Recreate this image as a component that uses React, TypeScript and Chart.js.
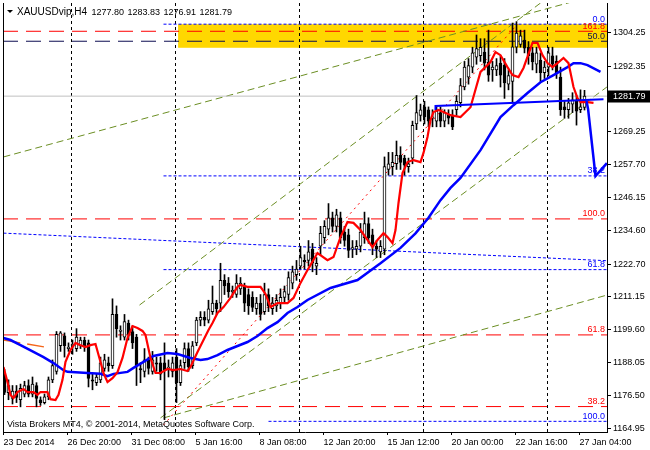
import React, { useEffect, useRef } from 'react';
import { Chart, registerables } from 'chart.js';
Chart.register(...registerables);

// ---- Candles (H4 bars, index 1..146) ----
const openP = [1183,1177.5,1175.5,1178,1175,1177,1180,1177,1180,1175,1174,1176,1182,1185,1194,1197.5,1193,1194,1193,1194,1196,1195,1182,1181,1182,1186,1188,1187,1205,1199,1197,1202,1199,1197,1186,1185,1189,1185,1188,1188,1188,1186,1185,1190,1181,1188,1193,1187,1195,1203,1204,1203,1206,1209,1209,1217,1216,1213,1212,1214,1215,1212,1211,1207,1209,1206,1212,1207,1208,1209,1211,1212,1216,1219,1222,1224,1224,1228,1222,1229,1232,1235,1239,1236,1239,1234,1233,1228,1228,1229,1232,1237,1233,1229,1227,1228,1256,1257,1258,1261,1260,1257,1260,1272,1275,1278,1277,1274,1273,1276,1273,1275,1275,1277,1279.5,1285,1288.5,1292,1295.5,1296,1297.3,1293.8,1291,1291,1293.4,1292.7,1286,1287,1299,1300,1301.5,1299,1297,1293,1294.5,1290,1292,1296,1294,1288.5,1278,1277,1279,1280,1277,1277.8];
const highP = [1185.7,1182,1180,1180,1180.5,1181.5,1182,1183,1181,1176,1177,1183,1189,1199,1199,1198.5,1195,1196,1200,1197,1197,1196,1184,1184,1190,1191,1190,1210.5,1208,1201,1205,1203,1201,1198,1188,1193,1190,1192,1190,1190,1195,1189,1190,1193,1189,1195,1195,1195.5,1204,1206,1206,1210,1215,1210,1223,1219,1218,1215,1219,1218,1216,1214,1213,1211,1212,1216,1214,1211,1212,1214,1215,1220,1222,1224,1229,1226,1231,1230,1225,1236,1238,1244,1241,1242,1241,1236,1235,1231,1231,1237,1241,1239,1235,1231,1231,1260.4,1262,1262,1266,1264,1261,1260,1273,1282,1279,1280,1278,1277,1278,1278,1277,1277,1277,1282,1288,1294,1295,1299,1303.3,1302,1302,1305,1294,1295,1296,1295,1291,1307.5,1308,1305,1305,1301,1299,1299,1297,1294,1299,1299,1296,1292,1280,1281,1283,1282,1284,1283.83];
const lowP = [1176.8,1175,1173.5,1174,1172.5,1176,1176,1176,1172.5,1173,1173.5,1175,1181,1184,1192,1190,1192,1191,1192,1193,1192,1179.5,1178.5,1180,1181,1185,1185,1186,1197,1196,1196,1196,1193,1180,1181,1183,1184,1184,1185,1182,1168,1183,1183,1174,1180,1186,1185,1186,1194,1201,1201,1202,1205,1205,1206,1212,1211,1211,1211,1212,1206,1205,1206,1205,1203,1205,1206,1205,1206,1207,1209,1210,1214,1217,1221,1221,1222,1220,1219,1226,1230,1233,1234,1234,1230,1229,1225,1225,1226,1227,1230,1230,1226,1225,1225,1226,1254,1254,1256,1256,1254,1255,1258,1270,1273,1272,1271,1271,1271,1271,1271,1272,1270,1275,1278,1284,1286,1290,1293,1294,1291,1287,1287,1289,1285,1281,1284,1279.4,1297,1299,1297,1293,1291,1290,1287,1288,1289,1291,1288,1275,1274,1274,1276,1271.6,1276,1276.91];
const closeP = [1177.6,1180,1178,1175.8,1179,1180,1177,1180.5,1175.5,1174,1176,1182,1187,1198,1198.5,1194,1193.5,1194.5,1197,1196,1194,1182.5,1181.5,1183,1188,1189,1187,1205,1200,1199.5,1202.5,1198,1195,1187,1185.5,1189,1186,1189,1187.5,1184,1185.5,1186.5,1188,1181,1187,1193,1186.5,1194,1203,1204,1203,1207,1209,1207,1217,1215,1213,1213.5,1216,1216,1209,1208,1207.5,1209,1205,1212,1208,1209,1210,1211,1213,1218,1220,1221,1225,1223.5,1227,1223,1223,1233.5,1236,1239,1236,1240,1232,1231,1227.5,1228.5,1229,1234,1237,1232,1229,1228,1229,1257,1258,1258.5,1261,1258.5,1257.5,1258,1271.5,1276,1277,1274.5,1273,1274.5,1276.5,1273,1276,1274,1271,1280,1285.5,1292,1292.5,1297,1298.5,1299,1293.4,1289.2,1292,1292.5,1289.2,1286.4,1289,1299.1,1304,1303,1298.7,1296,1293.8,1297,1290,1292,1297,1293,1290,1277,1277,1279.4,1280.5,1276.5,1278,1281.79];

// ---- Axis ticks ----
const yTickValues = [1164.95,1176.50,1188.05,1199.60,1211.15,1222.70,1234.60,1246.15,1257.70,1269.25,1292.35,1304.25];
const xTickValues = [0.75,16.75,32.75,48.75,64.75,80.75,96.75,112.75,128.75,144.75];
const xTickLabels = ['23 Dec 2014','26 Dec 20:00','31 Dec 08:00','5 Jan 16:00','8 Jan 08:00','12 Jan 20:00','15 Jan 12:00','20 Jan 00:00','22 Jan 16:00','27 Jan 04:00'];
const lastPrice = 1281.79;
const headerValues = ['1277.80','1283.83','1276.91','1281.79'];

// ---- Moving averages (bar index, price) ----
const redMaX = [0.75,1.75,2.5,3.25,4.25,5.75,6.75,8.25,9.25,10,11.75,12.5,13.75,14.5,15.5,16.25,17.5,18.75,20,21.25,22.5,23.75,25,25.75,26.75,28,29.25,30.5,31.75,33,34.25,35.5,36.25,37.5,38.75,40,41.75,43.25,45,46.75,47.5,49.25,50.75,52,53,54.25,55.75,57.5,59.25,60,61.75,65,66.25,67.5,69.25,71.75,73.25,75,76.75,79.25,81.75,83.25,85,86.75,88.25,90,91.75,93,94.25,95.75,96.75,98,98.75,99.5,100.5,101.75,103.25,105,105.75,106.75,107.5,108.25,109.5,110.75,112.5,115,117.5,120,122.5,123.75,125,126.75,128,129.5,130.75,133,134.25,135.5,136.75,138,139.25,140.75,142,143.25,144.25,145,146.75,148.25];
const redMaY = [1186.5,1181.2,1176.7,1175.6,1177.7,1178.8,1177.7,1177.7,1176.7,1177.7,1177.7,1175.2,1174.9,1176.7,1182,1188.3,1192.5,1195,1194.2,1193.5,1194.2,1194.6,1188.3,1184.4,1181.2,1182.6,1184.7,1189.7,1196.7,1200.9,1200.2,1199.2,1197.8,1189.7,1184.4,1184.4,1185.8,1185.4,1185.8,1185.1,1186.5,1191.8,1196,1199.5,1202,1205.5,1207.6,1210.8,1214.7,1215.4,1214.7,1214.7,1212.2,1207.6,1209,1209,1210.8,1216.1,1220.6,1226.6,1224.1,1225.2,1232.2,1237.5,1237.2,1234.7,1231.2,1228.7,1231.2,1233.6,1232.2,1230.1,1234.7,1244.2,1254.7,1258.6,1259.3,1258.6,1261.8,1267.4,1273.4,1276.2,1276.9,1276.2,1275.1,1274.4,1277.9,1290.3,1293.8,1297.3,1296.2,1292,1289.2,1288.5,1291.7,1300.5,1300.5,1296.2,1293.4,1292,1293.4,1295.2,1293.4,1285,1281.1,1279.7,1279.7,1279.4];
const blueMaX = [0.75,2.5,5,8.25,10.75,13.25,15.75,16.75,21.75,25,26.75,28.25,31.75,33.25,35.75,38.25,41.75,44.25,47.5,50,51.75,54.25,56.75,59.25,61.75,64.25,66.75,69.25,71.75,74.25,76.75,82.5,89.25,95,100,103.75,107,110,112.5,115,120,125,128.25,131.75,135,138.25,141.75,143.25,145,146.75,150];
const blueMaY = [1196.7,1196,1194.2,1191.8,1190,1187.9,1185.4,1184.8,1184.4,1184.1,1183.3,1184.1,1184.8,1186.2,1188.3,1190.4,1191.4,1191.1,1189.7,1189,1189.3,1190.7,1192.5,1193.9,1195.3,1197.4,1200.2,1202.3,1205.5,1207.6,1210.1,1214.3,1217.1,1223,1228.4,1233.5,1239,1245.2,1249.5,1253,1262.8,1274.4,1278.6,1282.9,1286.7,1289.2,1292,1293.4,1293.4,1292.7,1290.3];
const orangeX = [0.75,11.25];
const orangeY = [1196,1193.5];
const blueLevelX = [108.75,108.75,150.75];
const blueLevelY = [1276.9,1278.3,1280.7];
const blueTailX = [146.5,146.9,148.75,151.6];
const blueTailY = [1280.1,1277.2,1253.7,1258.2];

// ---- Objects ----
const separatorsX = [17.75,43.75,74.75,105.75,136.75];
const redFibLevels = [38.2,61.8,100,161.8];
const redFib0 = 1131.8, redFib100 = 1238.6;
const blueFibLevels = [0,38.2,61.8,100];
const blueFibStartX = [40.75,40.75,40.75,67];
const blueFib0 = 1307.1, blueFib100 = 1167.4;
const navyLevelPrice = 1301.1;
const navyLevelLabel = '50.0';
const rectX = [44.4, 151.625];
const rectY = [1307.1, 1298.8];
const oliveLines = [
  { x: [0.75, 151.6], y: [1260.4, 1318.3] },
  { x: [34.75, 136], y: [1208.3, 1315.6] },
  { x: [40, 151.6], y: [1168.6, 1285.0] },
  { x: [40.75, 151.6], y: [1168.6, 1211.8] },
];
const redDottedX = [40.75, 129.25];
const redDottedY = [1166.1, 1307.1];
const blueTrendX = [0.75, 151.6];
const blueTrendY = [1233.6, 1223.9];

const X_MIN = 0.625, X_MAX = 151.625;
const Y_MIN = 1163.65, Y_MAX = 1314.55;
const FONT = 'Liberation Sans';

const pts = (xs: number[], ys: number[]) => xs.map((x, i) => ({ x, y: ys[i] }));
const lineDs = (data: any[], color: string, width: number, dash: number[], order: number) => ({
  type: 'line' as const, data, borderColor: color, borderWidth: width, borderDash: dash,
  pointRadius: 0, tension: 0, fill: false, order, clip: 0,
});

export default function App() {
  const ref = useRef<HTMLCanvasElement | null>(null);
  useEffect(() => {
    if (!ref.current) return;
    const fibPrice = (p0: number, p100: number, lv: number) => p0 + (p100 - p0) * lv / 100;
    const datasets: any[] = [];
    separatorsX.forEach(sx => datasets.push(lineDs(pts([sx, sx], [Y_MIN, Y_MAX]), '#000', 1, [3, 3], 60)));
    redFibLevels.forEach(lv => {
      const p = fibPrice(redFib0, redFib100, lv);
      datasets.push(lineDs(pts([X_MIN, X_MAX], [p, p]), '#ff0000', 1, [15, 8], 55));
    });
    datasets.push(lineDs(pts([X_MIN, X_MAX], [navyLevelPrice, navyLevelPrice]), '#0c0c50', 1, [15, 8], 55));
    blueFibLevels.forEach((lv, i) => {
      const p = fibPrice(blueFib0, blueFib100, lv);
      datasets.push(lineDs(pts([blueFibStartX[i], X_MAX], [p, p]), '#0000ff', 1, [3, 2], 55));
    });
    datasets.push(lineDs(pts(blueTrendX, blueTrendY), '#0000ff', 1, [3, 2], 55));
    oliveLines.forEach(l => datasets.push(lineDs(pts(l.x, l.y), '#6b8e23', 1, [7, 4], 50)));
    datasets.push(lineDs(pts(redDottedX, redDottedY), '#ff0000', 1, [2, 4], 50));
    datasets.push(lineDs(pts([X_MIN, X_MAX], [lastPrice, lastPrice]), '#c0c0c0', 1, [], 45));
    datasets.push({
      type: 'bar', data: openP.map((_, i) => ({ x: i + 1, y: [lowP[i], highP[i]] })),
      backgroundColor: '#000', borderWidth: 0, barThickness: 1, grouped: false, order: 30,
    });
    datasets.push({
      type: 'bar', data: openP.map((o, i) => ({ x: i + 1, y: [o, closeP[i]] })),
      backgroundColor: openP.map((o, i) => (closeP[i] >= o ? '#ffffff' : '#000000')),
      borderColor: '#000', borderWidth: 1, borderSkipped: false, barThickness: 3, minBarLength: 1,
      grouped: false, order: 20,
    });
    datasets.push(lineDs(pts(orangeX, orangeY), '#f4661b', 1.5, [17, 7], 12));
    datasets.push(lineDs(pts(blueMaX, blueMaY), '#0000ff', 2.5, [], 11));
    datasets.push(lineDs(pts(redMaX, redMaY), '#ff0000', 2.2, [], 10));
    datasets.push(lineDs(pts(blueLevelX, blueLevelY), '#0000ff', 2, [], 9));
    datasets.push(lineDs(pts(blueTailX, blueTailY), '#0000ff', 2.5, [], 8));

    const overlay = {
      id: 'mt4overlay',
      beforeDatasetsDraw(chart: any) {
        const { ctx, scales } = chart;
        const x = scales.x, y = scales.y;
        ctx.save();
        ctx.fillStyle = '#ffd700';
        const x0 = x.getPixelForValue(rectX[0]), x1 = x.getPixelForValue(rectX[1]);
        const y0 = y.getPixelForValue(rectY[0]), y1 = y.getPixelForValue(rectY[1]);
        ctx.fillRect(x0, y0, x1 - x0, y1 - y0);
        ctx.restore();
      },
      afterDraw(chart: any) {
        const { ctx, scales, chartArea } = chart;
        const y = scales.y;
        ctx.save();
        ctx.strokeStyle = '#000'; ctx.lineWidth = 1;
        ctx.beginPath(); ctx.moveTo(chartArea.left + 0.5, chartArea.top); ctx.lineTo(chartArea.left + 0.5, chartArea.bottom); ctx.stroke();
        ctx.font = `9px "${FONT}"`; ctx.textAlign = 'right'; ctx.textBaseline = 'bottom';
        const lbl = (lv: number) => (lv === 0 ? '0.0' : lv.toFixed(1));
        redFibLevels.forEach(lv => {
          ctx.fillStyle = '#ff0000';
          ctx.fillText(lbl(lv), 605, y.getPixelForValue(fibPrice(redFib0, redFib100, lv)) - 0.5);
        });
        blueFibLevels.forEach(lv => {
          ctx.fillStyle = '#0000ff';
          ctx.fillText(lbl(lv), 605, y.getPixelForValue(fibPrice(blueFib0, blueFib100, lv)) - 0.5);
        });
        ctx.fillStyle = '#0c0c50';
        ctx.fillText(navyLevelLabel, 605, y.getPixelForValue(navyLevelPrice) - 0.5);
        ctx.fillStyle = '#000';
        ctx.beginPath(); ctx.moveTo(7, 10); ctx.lineTo(13, 10); ctx.lineTo(10, 13); ctx.closePath(); ctx.fill();
        ctx.textAlign = 'left'; ctx.textBaseline = 'alphabetic';
        ctx.font = `10px "${FONT}"`;
        ctx.fillText('XAUUSDvip,H4', 17, 15);
        ctx.font = `9px "${FONT}"`;
        const hx = [91.5, 127.5, 163.5, 199.5];
        headerValues.forEach((t, i) => ctx.fillText(t, hx[i], 15));
        ctx.textBaseline = 'middle';
        ctx.fillText('Vista Brokers MT4, \u00a9 2001-2014, MetaQuotes Software Corp.', 7, 424.5);
        const py = Math.round(y.getPixelForValue(lastPrice));
        ctx.fillStyle = '#000';
        ctx.fillRect(608, py - 5.5, 42, 12);
        ctx.fillStyle = '#fff';
        ctx.fillText(lastPrice.toFixed(2), 613, py + 0.5);
        ctx.restore();
      },
    };

    const chart = new Chart(ref.current, {
      type: 'bar',
      data: { datasets },
      plugins: [overlay],
      options: {
        animation: false,
        responsive: false,
        devicePixelRatio: 1,
        events: [],
        layout: { padding: { left: 3, top: 3, right: 0, bottom: 0 } },
        plugins: { legend: { display: false }, tooltip: { enabled: false } },
        scales: {
          x: {
            type: 'linear', position: 'bottom', min: X_MIN, max: X_MAX, offset: false,
            grid: { drawOnChartArea: false, tickLength: 3, color: '#000', offset: false },
            border: { display: true, color: '#000' },
            afterBuildTicks: (s: any) => { s.ticks = xTickValues.map(v => ({ value: v })); },
            afterFit: (s: any) => { s.height = 18; s.paddingLeft = 0; s.paddingRight = 0; },
            ticks: {
              autoSkip: false, maxRotation: 0, minRotation: 0, align: 'start', padding: 2,
              color: '#000', font: { family: FONT, size: 9 },
              callback: (_v: any, i: number) => xTickLabels[i],
            },
          },
          y: {
            type: 'linear', position: 'right', min: Y_MIN, max: Y_MAX,
            grid: { drawOnChartArea: false, tickLength: 4, color: '#000' },
            border: { display: true, color: '#000' },
            afterBuildTicks: (s: any) => { s.ticks = yTickValues.map(v => ({ value: v })); },
            afterFit: (s: any) => { s.width = 43; s.paddingTop = 0; s.paddingBottom = 0; },
            ticks: {
              padding: 2, color: '#000', font: { family: FONT, size: 9 },
              callback: (v: any) => Number(v).toFixed(2),
            },
          },
        },
      } as any,
    });
    return () => chart.destroy();
  }, []);
  return (
    <div style={{ position: 'fixed', left: 0, top: 0, width: 650, height: 450, background: '#fff' }}>
      <canvas ref={ref} width={650} height={450} />
    </div>
  );
}
